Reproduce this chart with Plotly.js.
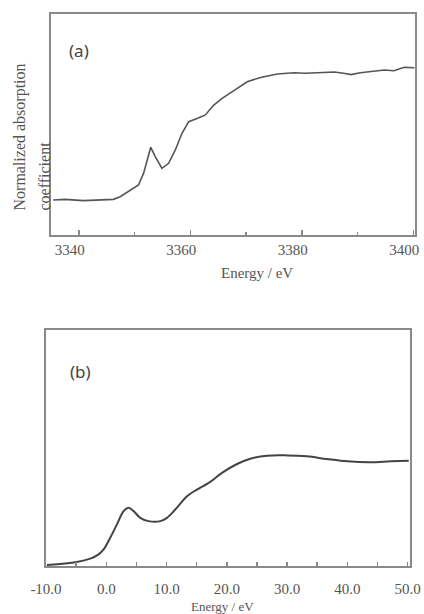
<!DOCTYPE html>
<html><head><meta charset="utf-8">
<script src="https://cdn.plot.ly/plotly-3.0.1.min.js"></script>
<style>html,body{margin:0;padding:0;background:#fff}#chart{width:424px;height:614px}</style>
</head><body><div id="chart"></div>
<script>
// Panel (a): Normalized absorption vs energy (eV)
const energyA = [3335.4,3337.5,3340.8,3343.5,3346.2,3347.4,3349.2,3350.7,3351.6,3352.2,3352.9,3353.7,3354.9,3356.1,3357.3,3358.5,3359.7,3361.2,3362.7,3364.2,3365.7,3367.8,3370.2,3372.6,3375.6,3378.6,3380.5,3382.8,3385.8,3387.5,3388.8,3390.5,3391.8,3394.8,3396.5,3398.4,3400.2];
const absA    = [0.00,0.005,-0.005,0.0,0.005,0.026,0.073,0.118,0.209,0.314,0.414,0.34,0.249,0.288,0.393,0.524,0.615,0.641,0.668,0.746,0.798,0.859,0.929,0.963,0.99,1.0,0.995,1.0,1.005,0.995,0.985,1.0,1.008,1.021,1.015,1.042,1.039];
// Panel (b): relative energy (eV)
const energyB = [-9.85,-4.9,-2.66,-1.27,-0.44,0.66,1.77,2.88,3.7,4.54,5.64,7.03,8.97,10.07,11.46,13.4,15.05,17.0,19.2,21.7,23.9,26.7,30.0,33.3,36.6,40.0,43.8,47.2,50.2];
const absB    = [0.009,0.0375,0.069,0.109,0.156,0.266,0.391,0.516,0.547,0.516,0.453,0.422,0.422,0.453,0.531,0.656,0.719,0.781,0.875,0.959,1.009,1.0375,1.04,1.031,1.006,0.984,0.975,0.984,0.99];
const ticksA = [3340,3360,3380,3400];
const ticksB = [-10,0,10,20,30,40,50];
const tickTextB = ['-10.0','0.0','10.0','20.0','30.0','40.0','50.0'];

const W=424,H=614;
const px=x=>x/W, py=y=>1-y/H;
const serif='Liberation Serif';
const txt='#555';
const frame={showline:true,mirror:true,linecolor:'#8a8a8a',linewidth:2,showgrid:false,zeroline:false};

const traces=[
 {x:energyA,y:absA,type:'scatter',mode:'lines',line:{color:'#555',width:1.6},xaxis:'x',yaxis:'y',hoverinfo:'skip'},
 {x:energyB,y:absB,type:'scatter',mode:'lines',line:{color:'#444',width:2,shape:'spline'},xaxis:'x2',yaxis:'y2',hoverinfo:'skip'}
];
const layout={
 width:W,height:H,margin:{l:0,r:0,t:0,b:0},paper_bgcolor:'#fff',plot_bgcolor:'#fff',showlegend:false,
 font:{family:serif,size:15,color:txt},
 xaxis:Object.assign({},frame,{domain:[px(51),px(415)],anchor:'y',range:[3335,3400.3],tickmode:'array',tickvals:ticksA,
   ticks:'inside',ticklen:5,tickwidth:1.5,tickcolor:'#888',ticklabelshift:-9,
   minor:{ticks:'inside',tickvals:[3350,3370,3390],ticklen:3,tickwidth:1.5,tickcolor:'#888'},
   tickfont:{family:serif,size:15,color:txt}}),
 yaxis:Object.assign({},frame,{domain:[py(235),py(14)],anchor:'x',range:[-0.275,1.461],showticklabels:false,ticks:''}),
 xaxis2:Object.assign({},frame,{domain:[px(46),px(410)],anchor:'y2',range:[-10,50.4],tickmode:'array',tickvals:ticksB,ticktext:tickTextB,
   ticks:'inside',ticklen:4,tickwidth:1.5,tickcolor:'#888',ticklabelstandoff:8,
   minor:{ticks:'inside',dtick:5,ticklen:4,tickwidth:1.5,tickcolor:'#888'},
   tickfont:{family:serif,size:15,color:txt}}),
 yaxis2:Object.assign({},frame,{domain:[py(566),py(330)],anchor:'x2',range:[0,2.219],showticklabels:false,ticks:''}),
 annotations:[
  {text:'(a)',xref:'paper',yref:'paper',x:px(79),y:py(50),xanchor:'center',yanchor:'middle',showarrow:false,font:{family:'Noto Sans',size:17,color:'#444'}},
  {text:'(b)',xref:'paper',yref:'paper',x:px(80),y:py(371),xanchor:'center',yanchor:'middle',showarrow:false,font:{family:'Noto Sans',size:17,color:'#444'}},
  {text:'Energy / eV',xref:'paper',yref:'paper',x:px(257),y:py(273),xanchor:'center',yanchor:'middle',showarrow:false,font:{family:serif,size:15,color:txt}},
  {text:'Energy / eV',xref:'paper',yref:'paper',x:px(222),y:py(606),xanchor:'center',yanchor:'middle',showarrow:false,font:{family:serif,size:13,color:txt}},
  {text:'Normalized absorption',textangle:-90,xref:'paper',yref:'paper',x:px(20),y:py(213),xanchor:'center',yanchor:'bottom',showarrow:false,font:{family:serif,size:16,color:txt}},
  {text:'coefficient',textangle:-90,xref:'paper',yref:'paper',x:px(44),y:py(213),xanchor:'center',yanchor:'bottom',showarrow:false,font:{family:serif,size:16,color:txt}}
 ]
};
Plotly.newPlot('chart',traces,layout,{staticPlot:true,displayModeBar:false});
</script></body></html>
